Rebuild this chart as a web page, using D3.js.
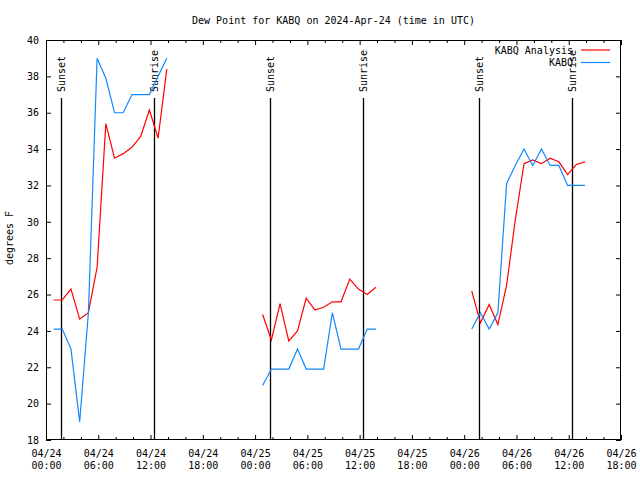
<!DOCTYPE html>
<html>
<head>
<meta charset="utf-8">
<script src="https://cdn.jsdelivr.net/npm/d3@7"></script>
<style>
  body { margin: 0; background: #fff; }
  text { font-family: "DejaVu Sans Mono", monospace; font-size: 10px; fill: #000; }
</style>
</head>
<body>
<div class="chart"></div>
<script>
// observation times (UTC), same for every day segment
const days = ['2024-04-24', '2024-04-25', '2024-04-26'];
const hours = ['00:52', '01:52', '02:52', '03:52', '04:52', '05:52', '06:52',
  '07:52', '08:52', '09:52', '10:52', '11:52', '12:52', '13:52'];

// KABQ Analysis (red)
const analysis24 = [25.7, 25.7, 26.3, 24.65, 25.0, 27.5, 35.4, 33.5, 33.75, 34.1, 34.7, 36.15, 34.6, 38.4];
const analysis25 = [24.9, 23.5, 25.5, 23.45, 24.0, 25.8, 25.15, 25.3, 25.6, 25.6, 26.85, 26.3, 26.0, 26.4];
const analysis26 = [26.2, 24.45, 25.45, 24.35, 26.5, 30.1, 33.2, 33.4, 33.2, 33.5, 33.3, 32.6, 33.15, 33.3];

// KABQ observed (blue)
const obs24 = [24.1, 24.1, 23.0, 19.0, 25.0, 39.0, 37.9, 36.0, 36.0, 37.0, 37.0, 37.0, 38.0, 39.0];
const obs25 = [21.0, 21.9, 21.9, 21.9, 23.0, 21.9, 21.9, 21.9, 25.0, 23.0, 23.0, 23.0, 24.1, 24.1];
const obs26 = [24.1, 25.0, 24.1, 25.0, 32.1, 33.1, 34.0, 33.1, 34.0, 33.1, 33.1, 32.0, 32.0, 32.0];

const sunsets = ['2024-04-24T01:45Z', '2024-04-25T01:44Z', '2024-04-26T01:44Z'];
const sunrises = ['2024-04-24T12:26Z', '2024-04-25T12:25Z', '2024-04-26T12:24Z'];

const yTicks = [18, 20, 22, 24, 26, 28, 30, 32, 34, 36, 38, 40];

const width = 640,
  height = 480,
  margin = { top: 40, right: 19, bottom: 40, left: 46 };

const red = '#ff0000',
  blue = '#1088ff';

const svg = d3
  .select('.chart')
  .append('svg')
  .attr('width', width)
  .attr('height', height);

const x = d3
  .scaleUtc()
  .domain([new Date('2024-04-24T00:00Z'), new Date('2024-04-26T18:00Z')])
  .range([margin.left, width - margin.right]);

const y = d3
  .scaleLinear()
  .domain([18, 40])
  .range([height - margin.bottom, margin.top]);

const major = x.ticks(d3.utcHour.every(6));
const minor = x.ticks(d3.utcHour.every(2)).filter(d => d.getUTCHours() % 6 !== 0);

// title
svg
  .append('text')
  .attr('x', (margin.left + width - margin.right) / 2)
  .attr('y', 24)
  .attr('text-anchor', 'middle')
  .text('Dew Point for KABQ on 2024-Apr-24 (time in UTC)');

// y label
svg
  .append('text')
  .attr('transform', `translate(9, 238) rotate(-90)`)
  .attr('text-anchor', 'middle')
  .attr('dy', '0.35em')
  .text('degrees F');

// axes (ticks pointing inward on all four sides)
const fmtDay = d3.utcFormat('%m/%d'),
  fmtTime = d3.utcFormat('%H:%M');

const bottomAxis = svg
  .append('g')
  .attr('transform', `translate(0, ${height - margin.bottom})`)
  .call(d3.axisBottom(x).tickValues(major).tickSizeInner(-5).tickSizeOuter(0).tickPadding(0));

bottomAxis.select('.domain').remove();
bottomAxis
  .selectAll('.tick text')
  .text(null)
  .attr('y', 0)
  .attr('dy', null)
  .each(function(d) {
    const t = d3.select(this);
    t.append('tspan').attr('x', 0).attr('y', 17).text(fmtDay(d));
    t.append('tspan').attr('x', 0).attr('y', 29).text(fmtTime(d));
  });

svg
  .append('g')
  .attr('transform', `translate(0, ${height - margin.bottom})`)
  .call(d3.axisBottom(x).tickValues(minor).tickSizeInner(-3).tickSizeOuter(0).tickFormat(''))
  .select('.domain')
  .remove();

const topAxis = svg
  .append('g')
  .attr('transform', `translate(0, ${margin.top})`);
topAxis.call(d3.axisTop(x).tickValues(major).tickSizeInner(-5).tickSizeOuter(0).tickFormat(''));
topAxis.select('.domain').remove();
svg
  .append('g')
  .attr('transform', `translate(0, ${margin.top})`)
  .call(d3.axisTop(x).tickValues(minor).tickSizeInner(-3).tickSizeOuter(0).tickFormat(''))
  .select('.domain')
  .remove();

const leftAxis = svg
  .append('g')
  .attr('transform', `translate(${margin.left}, 0)`)
  .call(d3.axisLeft(y).tickValues(yTicks).tickSizeInner(-5).tickSizeOuter(0).tickPadding(7));
leftAxis.select('.domain').remove();
leftAxis.selectAll('.tick text').attr('x', -7);

svg
  .append('g')
  .attr('transform', `translate(${width - margin.right}, 0)`)
  .call(d3.axisRight(y).tickValues(yTicks).tickSizeInner(-5).tickSizeOuter(0).tickFormat(''))
  .select('.domain')
  .remove();

svg.selectAll('.tick line').attr('stroke', '#000');
svg.selectAll('.tick text').attr('fill', '#000').style('font-family', '"DejaVu Sans Mono", monospace').style('font-size', '10px');

// frame
svg
  .append('rect')
  .attr('x', margin.left + 0.5)
  .attr('y', margin.top + 0.5)
  .attr('width', width - margin.left - margin.right - 1)
  .attr('height', height - margin.top - margin.bottom - 1)
  .attr('fill', 'none')
  .attr('stroke', '#000');

// sunset / sunrise markers
const events = [
  ...sunsets.map(t => ({ t: new Date(t), name: 'Sunset' })),
  ...sunrises.map(t => ({ t: new Date(t), name: 'Sunrise' }))
];

events.forEach(e => {
  const ex = Math.round(x(e.t)) + 0.5;
  svg
    .append('line')
    .attr('x1', ex)
    .attr('x2', ex)
    .attr('y1', y(18))
    .attr('y2', 98)
    .attr('stroke', '#000')
    .attr('stroke-width', 1.3);
  svg
    .append('text')
    .attr('transform', `translate(${ex}, 92) rotate(-90)`)
    .attr('dy', '0.35em')
    .text(e.name);
});

// data lines
const line = d3
  .line()
  .x(d => x(d.t))
  .y(d => y(d.v));

function series(values, day) {
  return values.map((v, i) => ({ t: new Date(`${day}T${hours[i]}Z`), v }));
}

const analysis = [analysis24, analysis25, analysis26];
const obs = [obs24, obs25, obs26];

days.forEach((day, i) => {
  svg
    .append('path')
    .datum(series(analysis[i], day))
    .attr('d', line)
    .attr('fill', 'none')
    .attr('stroke', red)
    .attr('stroke-width', 1.2);
  svg
    .append('path')
    .datum(series(obs[i], day))
    .attr('d', line)
    .attr('fill', 'none')
    .attr('stroke', blue)
    .attr('stroke-width', 1.2);
});

// legend
const legend = [
  { name: 'KABQ Analysis', color: red },
  { name: 'KABQ', color: blue }
];

legend.forEach((l, i) => {
  const ly = 50 + i * 12.5;
  svg
    .append('text')
    .attr('x', 573)
    .attr('y', ly)
    .attr('dy', '0.35em')
    .attr('text-anchor', 'end')
    .text(l.name);
  svg
    .append('line')
    .attr('x1', 581)
    .attr('x2', 610)
    .attr('y1', ly)
    .attr('y2', ly)
    .attr('stroke', l.color)
    .attr('stroke-width', 1.2);
});
</script>
</body>
</html>
